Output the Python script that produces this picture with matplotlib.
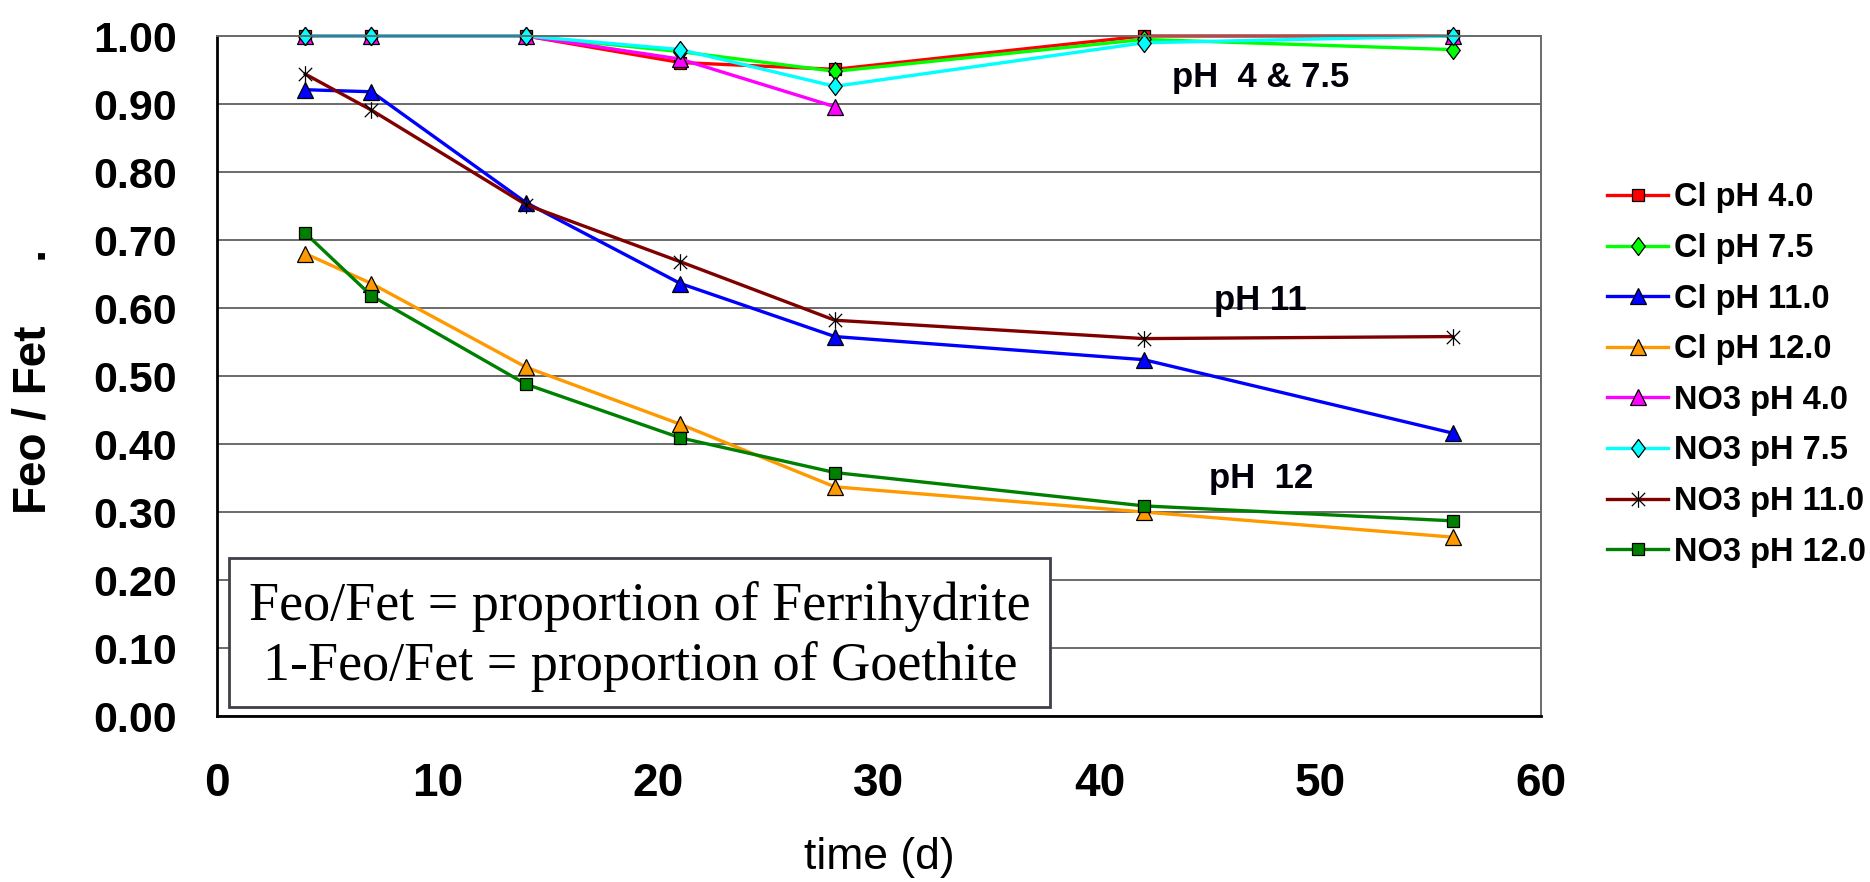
import numpy as np
import matplotlib
matplotlib.use("Agg")
import matplotlib.pyplot as plt
from matplotlib.path import Path
from matplotlib.patches import Rectangle

# ---- data -------------------------------------------------------------
days = [4, 7, 14, 21, 28, 42, 56]

cl_ph4 = [1.00, 1.00, 1.00, 0.961, 0.951, 1.000, 1.000]
cl_ph75 = [1.00, 1.00, 1.00, 0.977, 0.948, 0.995, 0.980]
cl_ph11 = [0.921, 0.918, 0.755, 0.636, 0.558, 0.524, 0.416]
cl_ph12 = [0.680, 0.636, 0.513, 0.429, 0.337, 0.300, 0.263]
no3_ph4 = [1.00, 1.00, 1.00, 0.966, 0.896, np.nan, 1.000]
no3_ph75 = [1.00, 1.00, 1.00, 0.980, 0.926, 0.990, 1.000]
no3_ph11 = [0.944, 0.891, 0.752, 0.668, 0.582, 0.555, 0.558]
no3_ph12 = [0.710, 0.618, 0.488, 0.409, 0.358, 0.309, 0.287]

series_names = ["Cl pH 4.0", "Cl pH 7.5", "Cl pH 11.0", "Cl pH 12.0",
                "NO3 pH 4.0", "NO3 pH 7.5", "NO3 pH 11.0", "NO3 pH 12.0"]
series_values = [cl_ph4, cl_ph75, cl_ph11, cl_ph12,
                 no3_ph4, no3_ph75, no3_ph11, no3_ph12]

x_ticks = [0, 10, 20, 30, 40, 50, 60]
y_ticks = [0.0, 0.1, 0.2, 0.3, 0.4, 0.5, 0.6, 0.7, 0.8, 0.9, 1.0]

# ---- styling ----------------------------------------------------------
SANS = ["Liberation Sans", "DejaVu Sans"]
plt.rcParams["font.family"] = SANS

diamond = Path([(0, 1), (0.75, 0), (0, -1), (-0.75, 0), (0, 1)],
               [Path.MOVETO, Path.LINETO, Path.LINETO, Path.LINETO, Path.CLOSEPOLY])
star = Path([(0, -1), (0, 1), (-0.8, -0.8), (0.8, 0.8), (-0.8, 0.8), (0.8, -0.8)],
            [Path.MOVETO, Path.LINETO, Path.MOVETO, Path.LINETO, Path.MOVETO, Path.LINETO])

styles = [
    dict(color="#FF0000", marker="s", ms=9, mfc="#FF0000"),
    dict(color="#00FF00", marker=diamond, ms=13, mfc="#00FF00"),
    dict(color="#0000FF", marker="^", ms=11, mfc="#0000FF"),
    dict(color="#FF9900", marker="^", ms=11, mfc="#FF9900"),
    dict(color="#FF00FF", marker="^", ms=11, mfc="#FF00FF"),
    dict(color="#00FFFF", marker=diamond, ms=13, mfc="#00FFFF"),
    dict(color="#800000", marker=star, ms=12, mfc="none"),
    dict(color="#008000", marker="s", ms=9, mfc="#008000"),
]

fig = plt.figure(figsize=(18.7, 8.82), dpi=100)
ax = fig.add_axes([217 / 1870, 1 - 716 / 882, 1324 / 1870, 680 / 882])

for name, vals, st in zip(series_names, series_values, styles):
    ax.plot(days, vals, color=st["color"], lw=2.4, marker=st["marker"],
            ms=st["ms"], mfc=st["mfc"], mec="black", mew=0.9, label=name,
            clip_on=False)

ax.set_xlim(0, 60)
ax.set_ylim(0, 1.0)
ax.set_xticks(x_ticks)
ax.set_yticks(y_ticks)
ax.set_yticklabels([f"{v:.2f}" for v in y_ticks])
ax.tick_params(axis="y", length=0, pad=29, labelsize=31)
ax.tick_params(axis="x", length=0, pad=33, labelsize=33)
for lab in ax.get_xticklabels() + ax.get_yticklabels():
    lab.set_fontweight("bold")

ax.yaxis.grid(True, color="#6a6a6a", lw=1.4)
ax.set_axisbelow(True)
ax.spines["left"].set_color("black")
ax.spines["left"].set_linewidth(2)
ax.spines["bottom"].set_color("black")
ax.spines["bottom"].set_linewidth(2)
ax.spines["top"].set_color("#6a6a6a")
ax.spines["top"].set_linewidth(1.4)
ax.spines["right"].set_color("#6a6a6a")
ax.spines["right"].set_linewidth(1.4)

# axis titles
fig.text(879 / 1870, 1 - 858 / 882, "time (d)", ha="center", va="center",
         fontsize=32)
fig.text(34 / 1870, 1 - 382 / 882, "Feo / Fet     .", rotation=90,
         ha="center", va="center", fontsize=33, fontweight="bold")

# group annotations
ax.text(47.3, 0.925, "pH  4 & 7.5", ha="center", va="baseline",
        fontsize=25, fontweight="bold", color="#00000a")
ax.text(47.3, 0.597, "pH 11", ha="center", va="baseline",
        fontsize=25, fontweight="bold", color="#00000a")
ax.text(47.3, 0.335, "pH  12", ha="center", va="baseline",
        fontsize=25, fontweight="bold", color="#00000a")

# explanatory box
fig.patches.append(Rectangle((229 / 1870, 1 - 707 / 882), 821 / 1870, 149 / 882,
                             transform=fig.transFigure, facecolor="white",
                             edgecolor="#40404a", lw=2, zorder=5))
serif = ["Liberation Serif", "DejaVu Serif"]
fig.text(640 / 1870, 1 - 606 / 882, "Feo/Fet = proportion of Ferrihydrite",
         ha="center", va="center", fontsize=39, family=serif, zorder=6)
fig.text(640 / 1870, 1 - 666 / 882, "1-Feo/Fet = proportion of Goethite",
         ha="center", va="center", fontsize=39, family=serif, zorder=6)

# legend
leg = ax.legend(loc="center left", bbox_to_anchor=(1591 / 1870, 1 - 375 / 882),
                bbox_transform=fig.transFigure, frameon=False,
                handlelength=1.85, handletextpad=0.2, labelspacing=0.6,
                borderpad=0, prop=dict(family=SANS, weight="bold", size=23.5))

fig.savefig("out.png", dpi=100)
